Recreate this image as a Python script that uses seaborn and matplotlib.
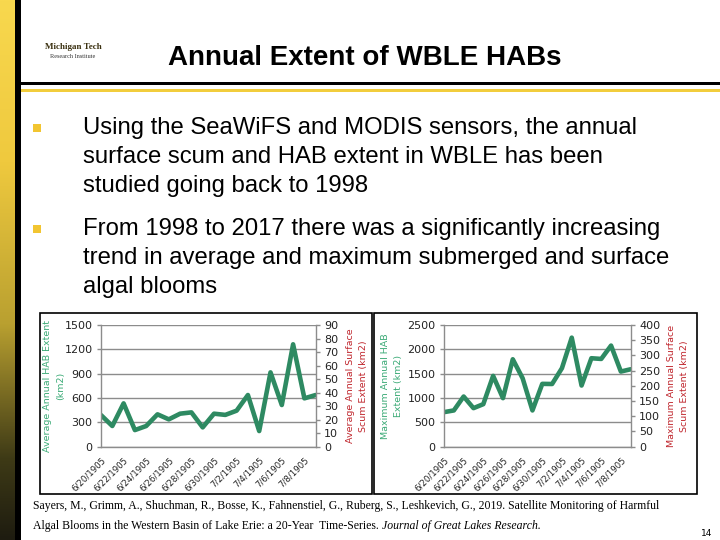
import matplotlib
matplotlib.use("Agg")
import matplotlib.pyplot as plt
import seaborn as sns
import pandas as pd
import numpy as np
from matplotlib.patches import Rectangle
from matplotlib.colors import LinearSegmentedColormap

# ---------------- data ----------------
years = list(range(1998, 2018))
avg_hab = [390, 255, 534, 205, 255, 399, 337, 407, 423, 238,
           407, 392, 444, 637, 193, 916, 514, 1262, 596, 637]
max_hab = [710, 745, 1031, 792, 874, 1455, 997, 1796, 1407, 745,
           1291, 1288, 1612, 2240, 1257, 1817, 1803, 2077, 1544, 1591]
tick_years = [1998, 2000, 2002, 2004, 2006, 2008, 2010, 2012, 2014, 2016]
tick_labels = ["6/20/1905", "6/22/1905", "6/24/1905", "6/26/1905", "6/28/1905",
               "6/30/1905", "7/2/1905", "7/4/1905", "7/6/1905", "7/8/1905"]
avg_left_ticks = [0, 300, 600, 900, 1200, 1500]
avg_right_ticks = [0, 10, 20, 30, 40, 50, 60, 70, 80, 90]
max_left_ticks = [0, 500, 1000, 1500, 2000, 2500]
max_right_ticks = [0, 50, 100, 150, 200, 250, 300, 350, 400]

title = "Annual Extent of WBLE HABs"
bullet1 = ["Using the SeaWiFS and MODIS sensors, the annual",
           "surface scum and HAB extent in WBLE has been",
           "studied going back to 1998"]
bullet2 = ["From 1998 to 2017 there was a significantly increasing",
           "trend in average and maximum submerged and surface",
           "algal blooms"]
cite1 = ("Sayers, M., Grimm, A., Shuchman, R., Bosse, K., Fahnenstiel, G., Ruberg, S., "
         "Leshkevich, G., 2019. Satellite Monitoring of Harmful")
cite2a = "Algal Blooms in the Western Basin of Lake Erie: a 20-Year  Time-Series. "
cite2b = "Journal of Great Lakes Research."

df = pd.DataFrame({"year": years, "avg": avg_hab, "max": max_hab})

# ---------------- style ----------------
sns.set_style("white")
plt.rcParams["font.family"] = ["DejaVu Sans"]

W, H = 720, 540
fig = plt.figure(figsize=(7.2, 5.4), dpi=100)
fig.patch.set_facecolor("white")

def fx(x):
    return x / W

def fy(y):
    return 1 - y / H

# left gradient bar
gax = fig.add_axes([0, 0, fx(15), 1])
cmap = LinearSegmentedColormap.from_list(
    "bar", [(0.0, "#F8D84E"), (0.3, "#EFC93E"), (0.6, "#B9A030"),
            (0.85, "#3E3A16"), (1.0, "#1E1C10")])
gax.imshow(np.linspace(0, 1, 256).reshape(-1, 1), aspect="auto", cmap=cmap,
           extent=[0, 1, 1, 0])
gax.set_axis_off()

# black vertical bar, header lines
fig.patches.append(Rectangle((fx(15), 0), fx(6), 1, transform=fig.transFigure,
                             facecolor="black", edgecolor="none", zorder=5))
fig.patches.append(Rectangle((fx(15), fy(85)), 1, 3 / H, transform=fig.transFigure,
                             facecolor="black", edgecolor="none", zorder=5))
fig.patches.append(Rectangle((fx(21), fy(92)), 1, 3 / H, transform=fig.transFigure,
                             facecolor="#F2CD3C", edgecolor="none", zorder=5))

# logo (text approximation)
fig.text(fx(73), fy(47), "Michigan Tech", fontsize=6.5, weight="bold",
         family="Liberation Serif", color="#3A3010", ha="center", va="center")
fig.text(fx(73), fy(56), "Research Institute", fontsize=4.5,
         family="Liberation Serif", color="#333333", ha="center", va="center")

# title
fig.text(fx(365), fy(58), title, fontsize=20, weight="bold",
         family="Liberation Sans", ha="center", va="center", color="black")

# bullets
for by, lines in [(128, bullet1), (229, bullet2)]:
    fig.patches.append(Rectangle((fx(33), fy(by + 4)), fx(8), 8 / H,
                                 transform=fig.transFigure,
                                 facecolor="#F2C531", edgecolor="none"))
    for i, line in enumerate(lines):
        fig.text(fx(83), fy(by + i * 29), line, fontsize=17.2,
                 family="Liberation Sans", ha="left", va="center", color="black")

# chart boxes
for (x0, x1) in [(40, 372), (374, 697)]:
    fig.patches.append(Rectangle((fx(x0), fy(494)), fx(x1 - x0), (494 - 313) / H,
                                 transform=fig.transFigure, facecolor="none",
                                 edgecolor="black", linewidth=1.2))

green = "#2E8A62"
label_green = "#3BAA76"
label_red = "#C0262D"
grid_gray = "#8C8C8C"

def make_chart(left_px, right_px, col, lticks, rticks, llabel, rlabel,
               llab_x, rlab_x):
    ax = fig.add_axes([fx(left_px), fy(446.7), fx(right_px - left_px), (446.7 - 325) / H])
    sns.lineplot(data=df, x="year", y=col, ax=ax, color=green, linewidth=3.3)
    ax.set_xlim(years[0], years[-1])
    ax.set_ylim(lticks[0], lticks[-1])
    ax.set_yticks(lticks)
    ax.set_yticklabels([str(t) for t in lticks], fontsize=8, color="#222222")
    ax.set_xticks(tick_years)
    ax.set_xticklabels(tick_labels, rotation=45, ha="right",
                       rotation_mode="anchor", fontsize=6.2, color="#222222")
    ax.grid(axis="y", color=grid_gray, linewidth=1)
    ax.set_axisbelow(True)
    ax.set_xlabel("")
    ax.set_ylabel("")
    for s in ["top", "right"]:
        ax.spines[s].set_visible(False)
    for s in ["left", "bottom"]:
        ax.spines[s].set_color(grid_gray)
        ax.spines[s].set_linewidth(1)
    ax.tick_params(axis="both", direction="out", length=3, width=1, color=grid_gray, pad=3)
    ax2 = ax.twinx()
    ax2.set_ylim(rticks[0], rticks[-1])
    ax2.set_yticks(rticks)
    ax2.set_yticklabels([str(t) for t in rticks], fontsize=8, color="#222222")
    for s in ["top", "left", "bottom"]:
        ax2.spines[s].set_visible(False)
    ax2.spines["right"].set_color(grid_gray)
    ax2.spines["right"].set_linewidth(1)
    ax2.tick_params(axis="y", direction="out", length=3, width=1, color=grid_gray, pad=3)
    fig.text(fx(llab_x), fy(386), llabel, rotation=90, fontsize=6.8,
             color=label_green, ha="center", va="center", linespacing=1.5,
             multialignment="center")
    fig.text(fx(rlab_x), fy(386), rlabel, rotation=90, fontsize=6.8,
             color=label_red, ha="center", va="center", linespacing=1.5,
             multialignment="center")
    return ax

make_chart(101, 315.7, "avg", avg_left_ticks, avg_right_ticks,
           "Average Annual HAB Extent\n(km2)",
           "Average Annual Surface\nScum Extent (km2)", 54, 357)
make_chart(444, 630.7, "max", max_left_ticks, max_right_ticks,
           "Maximum Annual HAB\nExtent (km2)",
           "Maximum Annual Surface\nScum Extent (km2)", 392, 678)

# citation
fig.text(fx(33), fy(506), cite1, fontsize=8.45, family="Liberation Serif",
         ha="left", va="center", color="black")
t2 = fig.text(fx(33), fy(526), cite2a, fontsize=8.45, family="Liberation Serif",
              ha="left", va="center", color="black")
fig.canvas.draw()
bb = t2.get_window_extent(renderer=fig.canvas.get_renderer())
fig.text(bb.x1 / W, fy(526), cite2b, fontsize=8.45, family="Liberation Serif",
         style="italic", ha="left", va="center", color="black")
fig.text(fx(707), fy(533), "14", fontsize=6.5, ha="center", va="center", color="black")

fig.savefig("out.png", dpi=100, facecolor="white")
